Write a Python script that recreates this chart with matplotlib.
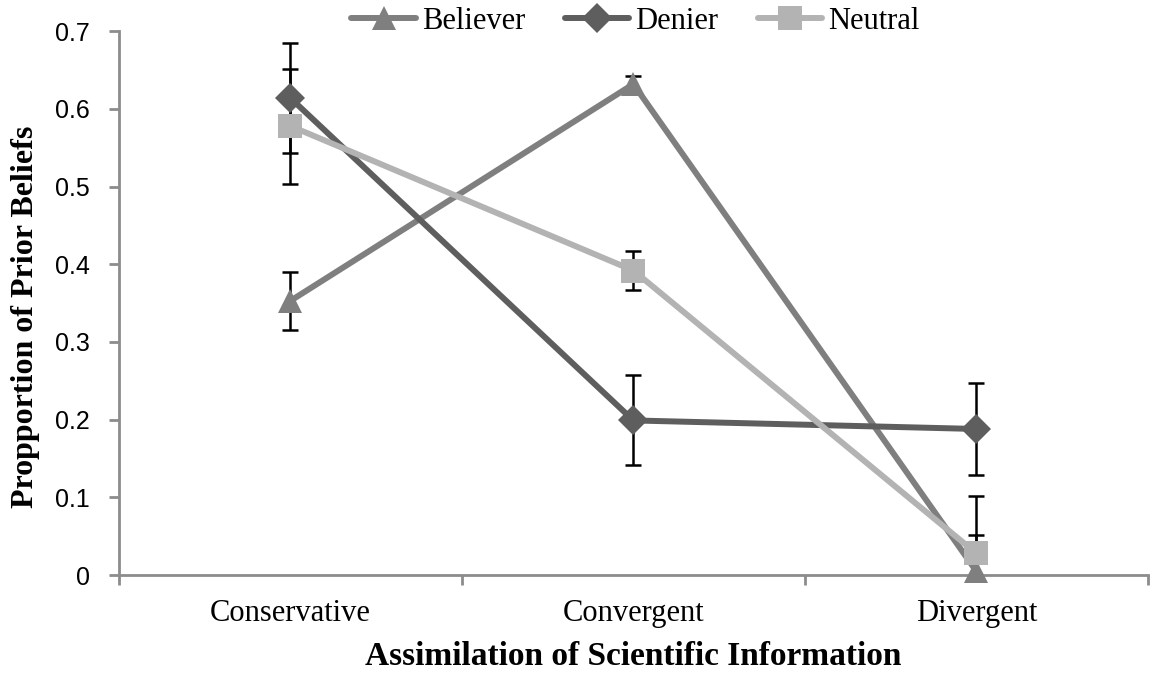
import matplotlib
matplotlib.use("Agg")
import matplotlib.pyplot as plt
import numpy as np

categories = ["Conservative", "Convergent", "Divergent"]
series_names = ["Believer", "Denier", "Neutral"]
believer = [0.353, 0.632, 0.005]
believer_err = [0.037, 0.010, 0.047]
denier = [0.614, 0.199, 0.188]
denier_err = [0.071, 0.058, 0.059]
neutral = [0.578, 0.392, 0.028]
neutral_err = [0.074, 0.025, 0.074]
y_ticks = [0, 0.1, 0.2, 0.3, 0.4, 0.5, 0.6, 0.7]
y_ticklabels = ["0", "0.1", "0.2", "0.3", "0.4", "0.5", "0.6", "0.7"]

colors = ["#7f7f7f", "#5e5e5e", "#b3b3b3"]
markers = ["^", "D", "s"]
msizes = [17, 15, 17]
values = [believer, denier, neutral]
errors = [believer_err, denier_err, neutral_err]

fig = plt.figure(figsize=(11.5, 6.8), dpi=100)
ax = fig.add_axes([0.1035, 0.1544, 0.8945, 0.7996])
x = np.arange(1, len(categories) + 1)

for i, name in enumerate(series_names):
    ax.errorbar(x, values[i], yerr=errors[i], fmt="none", ecolor="black",
                elinewidth=1.8, capsize=5.5, capthick=1.8, zorder=2 + i * 0.01)
for i, name in enumerate(series_names):
    ax.plot(x, values[i], color=colors[i], lw=4.3, marker=markers[i],
            markersize=msizes[i], markeredgewidth=0, label=name,
            solid_capstyle="round", zorder=3 + i, clip_on=False)

ax.set_xlim(0.5, 3.5)
ax.set_ylim(0, 0.7)
ax.set_yticks(y_ticks)
ax.set_yticklabels(y_ticklabels, fontfamily="Liberation Sans", fontsize=18)
ax.set_xticks(x)
ax.set_xticklabels(categories, fontfamily="Liberation Serif", fontsize=22)
ax.set_xticks([0.5, 1.5, 2.5, 3.5], minor=True)
ax.tick_params(axis="x", which="major", length=0, pad=17)
ax.tick_params(axis="x", which="minor", length=7, width=2, color="#8c8c8c", direction="out")
ax.tick_params(axis="y", length=7, width=2, color="#8c8c8c", direction="out", pad=14)
for s in ["top", "right"]:
    ax.spines[s].set_visible(False)
for s in ["left", "bottom"]:
    ax.spines[s].set_color("#8c8c8c")
    ax.spines[s].set_linewidth(2)

ax.set_ylabel("Propportion of Prior Beliefs", fontfamily="Liberation Serif",
              fontweight="bold", fontsize=23)
ax.yaxis.set_label_coords(-0.077, 0.474)
ax.set_xlabel("Assimilation of Scientific Information", fontfamily="Liberation Serif",
              fontweight="bold", fontsize=24)
ax.xaxis.set_label_coords(0.5, -0.122)

leg = ax.legend(loc="center", bbox_to_anchor=(0.502, 1.018), ncol=3, frameon=False,
                prop={"family": "Liberation Serif", "size": 22}, handlelength=2.1,
                handletextpad=0.2, columnspacing=1.3, markerscale=1.0,
                borderaxespad=0)

fig.savefig("out.png", dpi=100)
